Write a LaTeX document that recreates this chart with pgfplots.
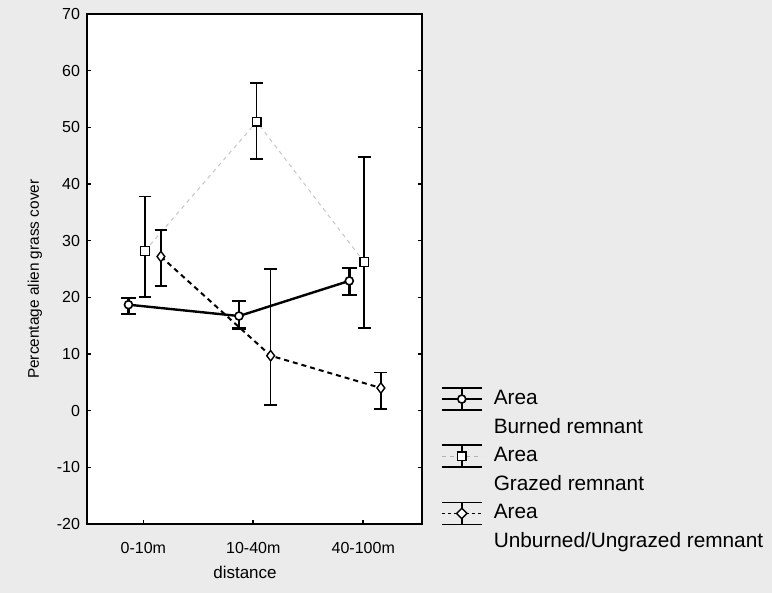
\documentclass[border=0pt]{standalone}
\usepackage{fontspec}
\setmainfont{Liberation Sans}
\usepackage{pgfplots}
\pgfplotsset{compat=1.18}
\usepackage{pgfplotstable}

\pgfplotstableread{
x y ep em
-0.135 18.7 1.2 1.6
0.870 16.7 2.7 2.2
1.873 22.9 2.3 2.5
}\burned
\pgfplotstableread{
x y ep em
0.015 28.2 9.6 8.1
1.031 51.0 6.8 6.6
2.009 26.2 18.6 11.6
}\grazed
\pgfplotstableread{
x y ep em
0.160 27.2 4.7 5.2
1.158 9.7 15.3 8.7
2.160 4.0 2.7 3.7
}\unburned

\begin{document}
\begin{tikzpicture}[x=1pt,y=1pt]
\fill[black!8] (0,0) rectangle (386,296.5);
\useasboundingbox (0,0) rectangle (386,296.5);
\begin{axis}[
  at={(43.5pt,34.5pt)}, anchor=south west,
  scale only axis, width=167.5pt, height=255pt,
  xmin=-0.512, xmax=2.534, ymin=-20, ymax=70,
  ytick={-20,-10,...,70},
  xtick={0,1,2}, xticklabels={0-10m,10-40m,40-100m},
  tick align=inside, major tick length=2pt,
  xtick pos=bottom, ytick pos=both, yticklabel pos=left,
  axis line style={line width=1pt},
  axis background/.style={fill=white},
  tick style={black, line width=0.8pt},
  ticklabel style={font=\fontsize{8}{9}\selectfont},
  xticklabel style={yshift=-5.5pt},
  /pgf/number format/assume math mode=true,
  xlabel={distance}, ylabel={Percentage alien grass cover},
  xlabel style={font=\fontsize{8.5}{10}\selectfont,
    at={([yshift=-24pt]rel axis cs:0.4716,0)}, anchor=center},
  ylabel style={font=\fontsize{7.7}{9}\selectfont,
    at={([xshift=-26pt]rel axis cs:0,0.48)}, anchor=center},
  error bars/error bar style={solid, black},
  legend cell align=left,
  legend style={at={(rel axis cs:1.0555,0.273)}, anchor=north west,
    draw=none, fill=none, inner sep=0pt, outer sep=0pt, column sep=3pt,
    font=\fontsize{10.4}{12}\selectfont,
    nodes={inner sep=2.4pt, text height=7.5pt, text depth=2pt}},
]
% Grazed remnant
\addplot[forget plot, gray!45, line width=0.5pt, dash pattern=on 2pt off 2pt,
  mark=square*, mark size=2.2pt, mark options={solid, draw=black, fill=white, line width=0.7pt},
  error bars/.cd, y dir=both, y explicit,
  error bar style={line width=0.8pt},
  error mark options={rotate=90, mark size=3.2pt, line width=0.8pt, black}]
  table[x=x, y=y, y error plus=ep, y error minus=em] {\grazed};
% Unburned/Ungrazed remnant
\addplot[forget plot, black, line width=1pt, dash pattern=on 2.5pt off 2pt,
  mark=diamond*, mark size=2.6pt, mark options={solid, draw=black, fill=white, line width=0.7pt},
  error bars/.cd, y dir=both, y explicit,
  error bar style={line width=0.8pt},
  error mark options={rotate=90, mark size=3.2pt, line width=0.8pt, black}]
  table[x=x, y=y, y error plus=ep, y error minus=em] {\unburned};
% Burned remnant
\addplot[forget plot, black, line width=1.2pt,
  mark=*, mark size=2pt, mark options={solid, draw=black, fill=white, line width=0.8pt},
  error bars/.cd, y dir=both, y explicit,
  error bar style={line width=1.2pt},
  error mark options={rotate=90, mark size=3.6pt, line width=1.2pt, black}]
  table[x=x, y=y, y error plus=ep, y error minus=em] {\burned};

\addlegendimage{legend image code/.code={
  \draw[black,line width=1.2pt] (0pt,0pt) -- (20pt,0pt);
  \draw[black,line width=1.1pt] (0pt,5.5pt) -- (20pt,5.5pt) (0pt,-5.5pt) -- (20pt,-5.5pt) (10pt,-5.5pt) -- (10pt,5.5pt);
  \draw[black,line width=0.8pt,fill=white] (10pt,0pt) circle (2pt);
}}
\addlegendentry{Area}
\addlegendimage{empty legend}
\addlegendentry{Burned remnant}
\addlegendimage{legend image code/.code={
  \draw[gray!60,line width=0.6pt,dash pattern=on 2pt off 2pt] (0pt,0pt) -- (20pt,0pt);
  \draw[black,line width=0.8pt] (0pt,5.5pt) -- (20pt,5.5pt) (0pt,-5.5pt) -- (20pt,-5.5pt) (10pt,-5.5pt) -- (10pt,5.5pt);
  \draw[black,line width=0.7pt,fill=white] (7.8pt,-2.2pt) rectangle (12.2pt,2.2pt);
}}
\addlegendentry{Area}
\addlegendimage{empty legend}
\addlegendentry{Grazed remnant}
\addlegendimage{legend image code/.code={
  \draw[black,line width=0.9pt,dash pattern=on 1.5pt off 1.5pt] (0pt,0pt) -- (20pt,0pt);
  \draw[black,line width=0.8pt] (0pt,5.5pt) -- (20pt,5.5pt) (0pt,-5.5pt) -- (20pt,-5.5pt) (10pt,-5.5pt) -- (10pt,5.5pt);
  \draw[black,line width=0.7pt,fill=white] (10pt,2.6pt) -- (12.6pt,0pt) -- (10pt,-2.6pt) -- (7.4pt,0pt) -- cycle;
}}
\addlegendentry{Area}
\addlegendimage{empty legend}
\addlegendentry{Unburned/Ungrazed remnant}
\end{axis}
\end{tikzpicture}
\end{document}
